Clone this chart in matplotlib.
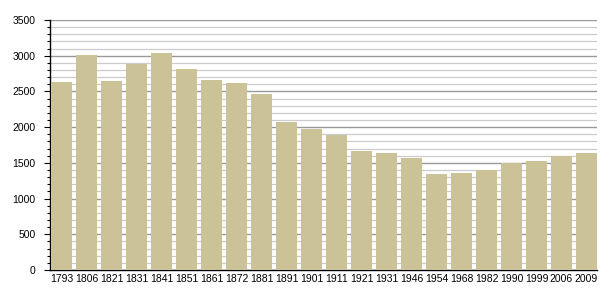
import matplotlib
matplotlib.use("Agg")
import matplotlib.pyplot as plt
from matplotlib.ticker import MultipleLocator

# population by census year
years = ["1793", "1806", "1821", "1831", "1841", "1851", "1861", "1872", "1881",
         "1891", "1901", "1911", "1921", "1931", "1946", "1954", "1968", "1982",
         "1990", "1999", "2006", "2009"]
population = [2632, 3010, 2646, 2888, 3038, 2814, 2660, 2618, 2464,
              2072, 1978, 1890, 1670, 1636, 1568, 1344, 1358, 1400,
              1498, 1526, 1596, 1638]

plt.rcParams['font.family'] = ['Liberation Sans', 'DejaVu Sans']

fig = plt.figure(figsize=(6.05, 3.0), dpi=100)
ax = fig.add_axes([50 / 605, 30 / 300, 547 / 605, 250 / 300])

x = range(len(years))
ax.bar(x, population, width=0.84, color='#cbc297', zorder=3)

ax.set_ylim(0, 3500)
ax.set_xlim(-0.46, len(years) - 0.58)
ax.yaxis.set_major_locator(MultipleLocator(500))
ax.yaxis.set_minor_locator(MultipleLocator(100))
ax.grid(axis='y', which='major', color='#999999', linewidth=1.0, zorder=1)
ax.grid(axis='y', which='minor', color='#cccccc', linewidth=0.9, zorder=1)

ax.set_xticks(list(x))
ax.set_xticklabels(years)
ax.tick_params(axis='x', length=0, labelsize=7.5, pad=3)
ax.tick_params(axis='y', which='major', length=4.5, width=0.8, labelsize=7.5, pad=6)
ax.tick_params(axis='y', which='minor', length=2.5, width=0.8)

for side in ['top', 'right']:
    ax.spines[side].set_visible(False)
ax.spines['left'].set_linewidth(1.0)
ax.spines['bottom'].set_linewidth(1.0)

plt.savefig('out.png', dpi=100)
